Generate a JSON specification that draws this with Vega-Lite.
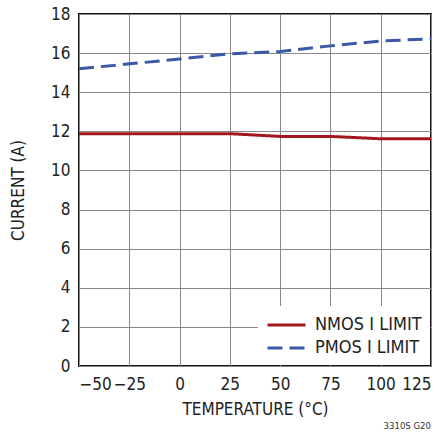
{
  "$schema": "https://vega.github.io/schema/vega-lite/v6.json",
  "width": 352,
  "height": 352,
  "autosize": "none",
  "padding": {"left": 79, "top": 14, "right": 16, "bottom": 71},
  "background": "white",
  "config": {
    "font": "DejaVu Sans Condensed, Liberation Sans, sans-serif",
    "view": {"stroke": "#111", "strokeWidth": 2},
    "axis": {
      "grid": true,
      "gridColor": "#888888",
      "gridWidth": 1,
      "gridOpacity": 1,
      "domain": false,
      "ticks": false,
      "labelFontSize": 17,
      "labelColor": "#222",
      "titleFontSize": 17,
      "titleFontWeight": "normal",
      "titleColor": "#222"
    },
    "legend": {
      "orient": "bottom-right",
      "offset": 1,
      "fillColor": "white",
      "padding": 8,
      "labelFontSize": 18,
      "labelColor": "#222",
      "labelOffset": 27,
      "rowPadding": 3,
      "symbolType": "M-1,0H3",
      "symbolSize": 361,
      "symbolStrokeWidth": 3,
      "title": null
    }
  },
  "title": {
    "text": "3310S G20",
    "orient": "bottom",
    "anchor": "end",
    "frame": "group",
    "fontSize": 9.5,
    "fontWeight": "normal",
    "color": "#333",
    "offset": 4
  },
  "data": {
    "values": [
      {"temp": -50, "current": 11.88, "series": "NMOS I LIMIT"},
      {"temp": -25, "current": 11.88, "series": "NMOS I LIMIT"},
      {"temp": 0, "current": 11.88, "series": "NMOS I LIMIT"},
      {"temp": 25, "current": 11.88, "series": "NMOS I LIMIT"},
      {"temp": 50, "current": 11.74, "series": "NMOS I LIMIT"},
      {"temp": 75, "current": 11.74, "series": "NMOS I LIMIT"},
      {"temp": 100, "current": 11.62, "series": "NMOS I LIMIT"},
      {"temp": 125, "current": 11.62, "series": "NMOS I LIMIT"},
      {"temp": -50, "current": 15.2, "series": "PMOS I LIMIT"},
      {"temp": -25, "current": 15.45, "series": "PMOS I LIMIT"},
      {"temp": 0, "current": 15.7, "series": "PMOS I LIMIT"},
      {"temp": 25, "current": 15.96, "series": "PMOS I LIMIT"},
      {"temp": 50, "current": 16.08, "series": "PMOS I LIMIT"},
      {"temp": 75, "current": 16.37, "series": "PMOS I LIMIT"},
      {"temp": 100, "current": 16.62, "series": "PMOS I LIMIT"},
      {"temp": 125, "current": 16.73, "series": "PMOS I LIMIT"}
    ]
  },
  "mark": {"type": "line", "strokeWidth": 3},
  "encoding": {
    "x": {
      "field": "temp",
      "type": "quantitative",
      "scale": {"domain": [-50, 125], "nice": false, "zero": false},
      "axis": {
        "values": [-50, -25, 0, 25, 50, 75, 100, 125],
        "labelPadding": 10,
        "title": "TEMPERATURE (°C)",
        "titlePadding": 9
      }
    },
    "y": {
      "field": "current",
      "type": "quantitative",
      "scale": {"domain": [0, 18], "nice": false},
      "axis": {
        "values": [0, 2, 4, 6, 8, 10, 12, 14, 16, 18],
        "labelPadding": 9,
        "title": "CURRENT (A)",
        "titleX": -61,
        "titleY": 176,
        "titleAngle": -90,
        "titleBaseline": "middle",
        "titleAlign": "center"
      }
    },
    "color": {
      "field": "series",
      "type": "nominal",
      "scale": {"domain": ["NMOS I LIMIT", "PMOS I LIMIT"], "range": ["#a3181e", "#3a59a7"]}
    },
    "strokeDash": {
      "field": "series",
      "type": "nominal",
      "scale": {"domain": ["NMOS I LIMIT", "PMOS I LIMIT"], "range": [[1, 0], [15, 7]]}
    }
  }
}
